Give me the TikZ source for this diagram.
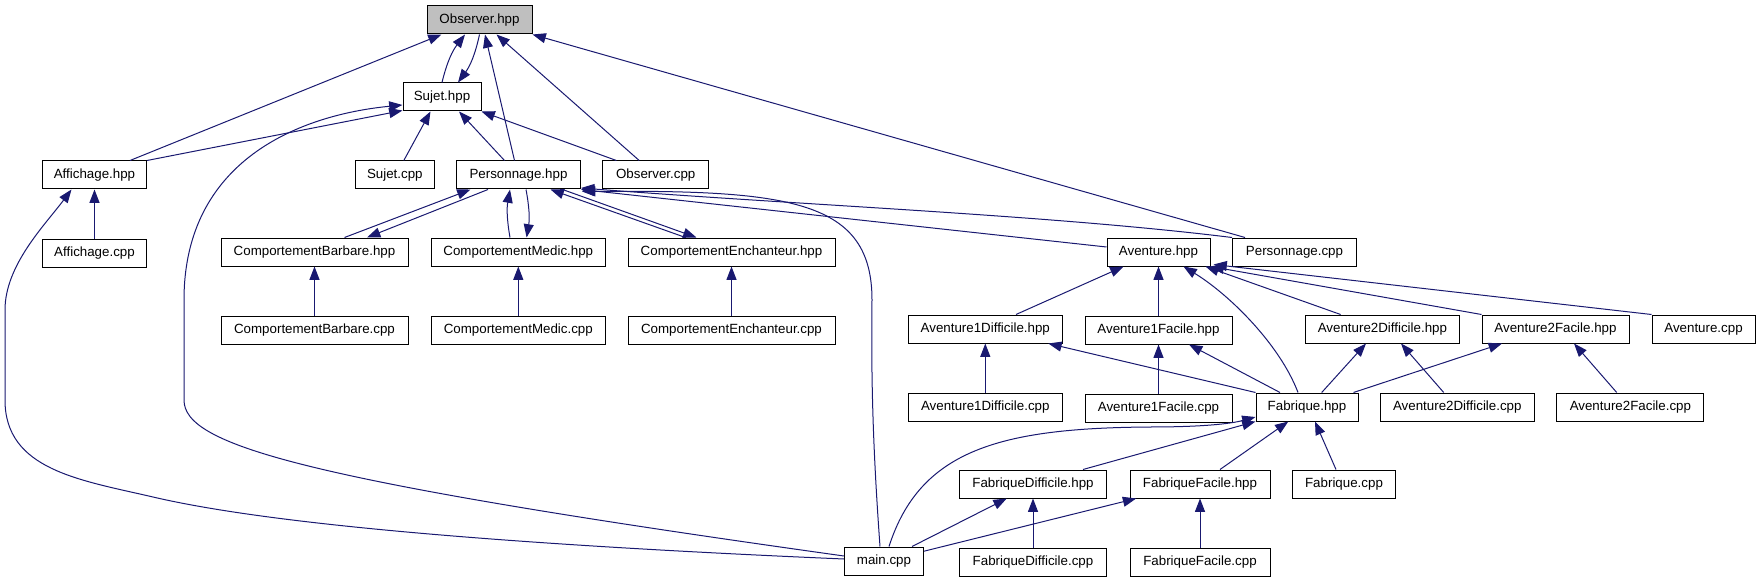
\documentclass[tikz,border=0pt]{standalone}
\usepackage{fontspec}
\setmainfont{Liberation Sans}
\usetikzlibrary{positioning, arrows.meta, calc}
\definecolor{midnight}{RGB}{25,25,112}

\begin{document}
\begin{tikzpicture}[x=0.75pt, y=-0.75pt, font=\fontsize{10}{12}\selectfont,
  >={Triangle[length=10pt, width=7.5pt]}, node distance=36.75pt,
  src/.style={draw, line width=0.75pt, fill=white, inner sep=0pt, minimum height=21pt, minimum width=#1*0.75pt},
  dep/.style={draw=midnight, line width=0.75pt, ->}]
  \useasboundingbox (0,0) rectangle (1760,581);
  \node[src=105, fill=black!25] (obs) at (479.5,20) {Observer.hpp};
  \node[src=78] (suj) at (442,97) {Sujet.hpp};
  \node[src=104] (aff) at (94.5,175) {Affichage.hpp};
  \node[src=78.5] (sujcpp) at (394.8,175) {Sujet.cpp};
  \node[src=124] (per) at (518.5,175) {Personnage.hpp};
  \node[src=105.5] (obscpp) at (655.7,175) {Observer.cpp};
  \node[src=104, below=of aff] (affcpp) {Affichage.cpp};
  \node[src=187] (barb) at (314.5,252) {ComportementBarbare.hpp};
  \node[src=174.5] (medic) at (518.3,252) {ComportementMedic.hpp};
  \node[src=207] (ench) at (731.5,252) {ComportementEnchanteur.hpp};
  \node[src=103] (avent) at (1158.5,252) {Aventure.hpp};
  \node[src=124] (percpp) at (1294.5,252) {Personnage.cpp};
  \node[src=187, below=of barb] (barbcpp) {ComportementBarbare.cpp};
  \node[src=174.5, below=of medic] (mediccpp) {ComportementMedic.cpp};
  \node[src=207, below=of ench] (enchcpp) {ComportementEnchanteur.cpp};
  \node[src=154] (a1d) at (985.3,329) {Aventure1Difficile.hpp};
  \node[src=147, below=of avent] (a1f) {Aventure1Facile.hpp};
  \node[src=153.6] (a2d) at (1382.4,329) {Aventure2Difficile.hpp};
  \node[src=147] (a2f) at (1555.5,329) {Aventure2Facile.hpp};
  \node[src=103] (avcpp) at (1703.5,329) {Aventure.cpp};
  \node[src=154, below=of a1d] (a1dcpp) {Aventure1Difficile.cpp};
  \node[src=147, below=of a1f] (a1fcpp) {Aventure1Facile.cpp};
  \node[src=102] (fab) at (1307,407) {Fabrique.hpp};
  \node[src=153.4] (a2dcpp) at (1457.3,407) {Aventure2Difficile.cpp};
  \node[src=147] (a2fcpp) at (1630.4,407) {Aventure2Facile.cpp};
  \node[src=146.5] (fabd) at (1033,484) {FabriqueDifficile.hpp};
  \node[src=140] (fabf) at (1200,484) {FabriqueFacile.hpp};
  \node[src=102.3] (fabcpp) at (1344,484) {Fabrique.cpp};
  \node[src=79] (main) at (884,561) {main.cpp};
  \node[src=146.5, below=of fabd] (fabdcpp) {FabriqueDifficile.cpp};
  \node[src=140, below=of fabf] (fabfcpp) {FabriqueFacile.cpp};

  \draw[dep] ($(aff.north)+(35.5,0)$) -- ($(obs.south)+(-38,0)$);
  \draw[dep] (suj.north) to[bend left=12] ($(obs.south)+(-14.5,0)$);
  \draw[dep] (obs.south) to[bend left=12] ($(suj.north)+(16,0)$);
  \draw[dep] ($(per.north)+(-4,0)$) -- ($(obs.south)+(5.5,0)$);
  \draw[dep] ($(obscpp.north)+(-16.5,0)$) -- ($(obs.south)+(17,0)$);
  \draw[dep] ($(percpp.north)+(-49.5,0)$) -- (obs.south east);
  \draw[dep] (aff.north east) -- ($(suj.south west)+(0,-1)$);
  \draw[dep] ($(main.west)+(0,-5)$) .. controls (300,480) and (184,445) .. (184,400) -- (184,300)
    .. controls (184,160) and (300,115) .. ($(suj.west)+(0,8)$);
  \draw[dep] ($(sujcpp.north)+(9,0)$) -- ($(suj.south)+(-11.5,0)$);
  \draw[dep] ($(per.north)+(-14,0)$) -- ($(suj.south)+(17,0)$);
  \draw[dep] ($(obscpp.north)+(-39.3,0)$) -- (suj.south east);
  \draw[dep] (affcpp) -- (aff);
  \draw[dep] ($(main.west)+(0,-2)$) .. controls (400,540) and (230,515) .. (153,497)
    .. controls (80,480) and (5,470) .. (5,400) -- (5,310) .. controls (5,265) and (45,225) .. ($(aff.south)+(-23,0)$);

  \draw[dep] ($(barb.north)+(30,0)$) -- ($(per.south)+(-48,0)$);
  \draw[dep] ($(per.south)+(-30.5,0)$) -- ($(barb.north)+(52.5,0)$);
  \draw[dep] ($(medic.north)+(-8.3,0)$) to[bend left=10] ($(per.south)+(-8.5,0)$);
  \draw[dep] ($(per.south)+(7.5,0)$) to[bend left=10] ($(medic.north)+(8.3,0)$);
  \draw[dep] ($(ench.north)+(-46,0)$) -- ($(per.south)+(32,0)$);
  \draw[dep] ($(per.south)+(44,0)$) -- ($(ench.north)+(-35,0)$);
  \draw[dep] ($(avent.west)+(0,-5)$) -- (per.south east);
  \draw[dep] (percpp.north west) .. controls (1050,215) and (800,205) .. ($(per.south east)+(0,-1.5)$);
  \draw[dep] ($(main.north)+(-4,0)$) .. controls (873,450) and (871,380) .. (872,300)
    .. controls (872,200) and (790,190) .. ($(per.south east)+(1,2)$);
  \draw[dep] (barbcpp) -- (barb);
  \draw[dep] (mediccpp) -- (medic);
  \draw[dep] (enchcpp) -- (ench);

  \draw[dep] ($(a1d.north)+(30.7,0)$) -- ($(avent.south)+(-35,0)$);
  \draw[dep] (a1f) -- (avent);
  \draw[dep] ($(fab.north)+(-9,0)$) .. controls (1280,345) and (1230,295) .. ($(avent.south)+(25,0)$);
  \draw[dep] ($(a2d.north)+(-41.8,0)$) -- ($(avent.south east)+(-5,0)$);
  \draw[dep] (a2f.north west) -- (avent.south east);
  \draw[dep] (avcpp.north west) -- ($(avent.south east)+(3,-2)$);
  \draw[dep] (a1dcpp) -- (a1d);
  \draw[dep] (fab.north west) -- ($(a1d.south)+(63,0)$);
  \draw[dep] (a1fcpp) -- (a1f);
  \draw[dep] ($(fab.north)+(-27,0)$) -- ($(a1f.south)+(30.5,0)$);
  \draw[dep] ($(fab.north)+(14.7,0)$) -- ($(a2d.south)+(-16.4,0)$);
  \draw[dep] ($(a2dcpp.north)+(-13.6,0)$) -- ($(a2d.south)+(18.6,0)$);
  \draw[dep] ($(fab.north east)+(-5,0)$) -- ($(a2f.south)+(-53.5,0)$);
  \draw[dep] ($(a2fcpp.north)+(-13.7,0)$) -- ($(a2f.south)+(18.5,0)$);

  \draw[dep] ($(main.north)+(5,0)$) .. controls (920,450) and (1000,428) .. (1150,427)
    .. controls (1200,427) and (1230,424) .. ($(fab.west)+(0,10)$);
  \draw[dep] ($(fabd.north)+(50,0)$) -- (fab.south west);
  \draw[dep] ($(fabf.north)+(20,0)$) -- ($(fab.south)+(-18.7,0)$);
  \draw[dep] ($(fabcpp.north)+(-8,0)$) -- ($(fab.south)+(8,0)$);
  \draw[dep] ($(main.north)+(28,0)$) -- ($(fabd.south)+(-26.3,0)$);
  \draw[dep] (fabdcpp) -- (fabd);
  \draw[dep] ($(main.north east)+(0,4.7)$) -- ($(fabf.south west)+(6.7,0)$);
  \draw[dep] (fabfcpp) -- (fabf);
\end{tikzpicture}
\end{document}
